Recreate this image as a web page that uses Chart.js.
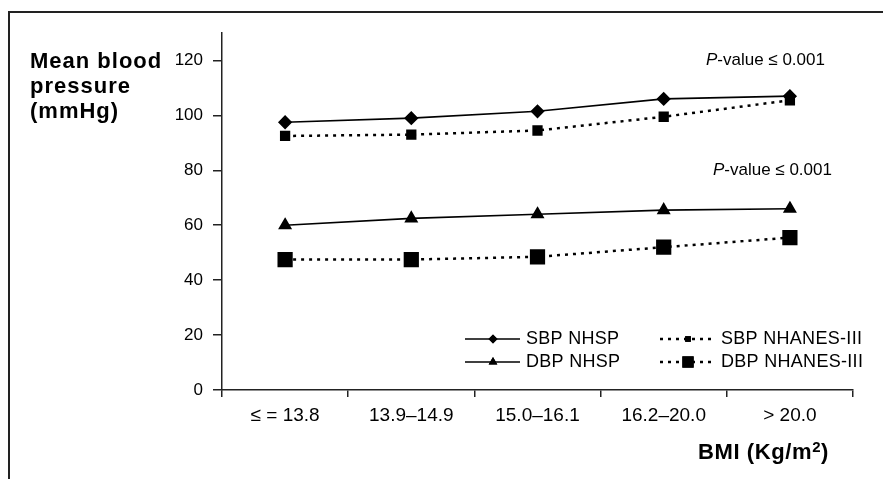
<!DOCTYPE html>
<html>
<head>
<meta charset="utf-8">
<script src="https://cdn.jsdelivr.net/npm/chart.js@4.4.0/dist/chart.umd.min.js"></script>
<style>
  html, body { margin: 0; padding: 0; background: #fff; }
  #wrap { width: 883px; height: 479px; }
</style>
</head>
<body>
<div id="wrap"><canvas id="bp-chart" width="883" height="479"></canvas></div>
<script>
// BMI groups and mean pressures
var bmiGroups = ["\u2264 = 13.8", "13.9\u201314.9", "15.0\u201316.1", "16.2\u201320.0", "> 20.0"];
var sbpNhsp = [97.5, 99, 101.5, 106, 107];
var sbpNhanes = [92.5, 93, 94.5, 99.5, 105.5];
var dbpNhsp = [60, 62.5, 64, 65.5, 66];
var dbpNhanes = [47.5, 47.5, 48.5, 52, 55.5];
var yTicks = [0, 20, 40, 60, 80, 100, 120];
var pLabel = "P-value \u2264 0.001";

var FONT = "'Liberation Sans', Arial, sans-serif";

// frame, titles, p-values and the hand-made legend
var extras = {
  id: "extras",
  beforeDraw: function(chart){
    var ctx = chart.ctx;
    ctx.save();
    ctx.strokeStyle = "#222";
    ctx.lineWidth = 2;
    ctx.beginPath();
    ctx.moveTo(9, 479);
    ctx.lineTo(9, 12);
    ctx.lineTo(883, 12);
    ctx.stroke();
    ctx.restore();
  },
  afterDraw: function(chart){
    var ctx = chart.ctx;
    ctx.save();
    ctx.fillStyle = "#000";
    ctx.textBaseline = "middle";
    ctx.textAlign = "left";

    ctx.font = "bold 22px " + FONT;
    ctx.letterSpacing = "1px";
    ctx.fillText("Mean blood", 30, 62);
    ctx.fillText("pressure", 30, 87);
    ctx.fillText("(mmHg)", 30, 112);

    // x title with superscript
    ctx.letterSpacing = "0.6px";
    ctx.font = "bold 22px " + FONT;
    var t1 = "BMI (Kg/m";
    ctx.fillText(t1, 698, 453);
    var w1 = ctx.measureText(t1).width;
    ctx.font = "bold 15px " + FONT;
    ctx.fillText("2", 698 + w1, 448);
    var w2 = ctx.measureText("2").width;
    ctx.font = "bold 22px " + FONT;
    ctx.fillText(")", 698 + w1 + w2, 453);
    ctx.letterSpacing = "0px";

    // p-values
    function pval(x, y){
      ctx.font = "italic 17px " + FONT;
      ctx.fillText("P", x, y);
      var w = ctx.measureText("P").width;
      ctx.font = "17px " + FONT;
      ctx.fillText(pLabel.slice(1), x + w, y);
    }
    pval(706, 60);
    pval(713, 170);

    // legend
    var items = [
      {ds: 0, x: 465, y: 339},
      {ds: 2, x: 465, y: 362},
      {ds: 1, x: 660, y: 339},
      {ds: 3, x: 660, y: 362}
    ];
    items.forEach(function(it){
      var ds = chart.data.datasets[it.ds];
      ctx.strokeStyle = "#000";
      ctx.lineWidth = ds.borderWidth;
      ctx.setLineDash(ds.borderDash || []);
      ctx.beginPath();
      ctx.moveTo(it.x, it.y);
      ctx.lineTo(it.x + 55, it.y);
      ctx.stroke();
      ctx.setLineDash([]);
      Chart.helpers.drawPoint(ctx, {
        pointStyle: ds.pointStyle,
        radius: ds.legendRadius,
        borderWidth: 0,
        rotation: 0
      }, it.x + 28, it.y);
      ctx.fillStyle = "#000";
      ctx.fill();
      ctx.font = "18px " + FONT;
      ctx.letterSpacing = "0.3px";
      ctx.fillStyle = "#000";
      ctx.fillText(ds.label, it.x + 61, it.y);
      ctx.letterSpacing = "0px";
    });
    ctx.restore();
  }
};

new Chart(document.getElementById("bp-chart"), {
  type: "line",
  data: {
    labels: bmiGroups,
    datasets: [{
        label: "SBP NHSP",
        data: sbpNhsp,
        borderColor: "#000",
        backgroundColor: "#000",
        borderWidth: 1.6,
        pointStyle: "rectRot",
        pointRadius: 6,
        legendRadius: 4.5,
        fill: false
      }, {
        label: "SBP NHANES-III",
        data: sbpNhanes,
        borderColor: "#000",
        backgroundColor: "#000",
        borderWidth: 2.5,
        borderDash: [3, 5],
        pointStyle: "rect",
        pointRadius: 5.5,
        legendRadius: 4,
        fill: false
      }, {
        label: "DBP NHSP",
        data: dbpNhsp,
        borderColor: "#000",
        backgroundColor: "#000",
        borderWidth: 1.6,
        pointStyle: "triangle",
        pointRadius: 6.5,
        legendRadius: 5,
        fill: false
      }, {
        label: "DBP NHANES-III",
        data: dbpNhanes,
        borderColor: "#000",
        backgroundColor: "#000",
        borderWidth: 2.5,
        borderDash: [3, 5],
        pointStyle: "rect",
        pointRadius: 9,
        legendRadius: 8,
        fill: false
      }
    ]
  },
  options: {
    responsive: false,
    animation: false,
    layout: { padding: { left: 0, top: 33, right: 30, bottom: 0 } },
    plugins: {
      legend: { display: false },
      tooltip: { enabled: false }
    },
    elements: { point: { borderWidth: 0 } },
    scales: {
      x: {
        offset: true,
        grid: { offset: true, drawOnChartArea: false, drawTicks: true, tickLength: 7, color: "#222", lineWidth: 1.5 },
        border: { display: true, color: "#222", width: 1.5 },
        ticks: { color: "#000", font: { family: FONT, size: 19 }, padding: 7, maxRotation: 0 },
        afterFit: function(scale){ scale.height = 89; }
      },
      y: {
        min: 0,
        max: 130,
        grid: { drawOnChartArea: false, drawTicks: true, tickLength: 9, color: "#222", lineWidth: 1.5 },
        border: { display: true, color: "#222", width: 1.5 },
        ticks: { color: "#000", font: { family: FONT, size: 17 }, padding: 10 },
        afterBuildTicks: function(axis){
          axis.ticks = yTicks.map(function(v){ return { value: v }; });
        },
        afterFit: function(scale){ scale.width = 222; }
      }
    }
  },
  plugins: [extras]
});
</script>
</body>
</html>
